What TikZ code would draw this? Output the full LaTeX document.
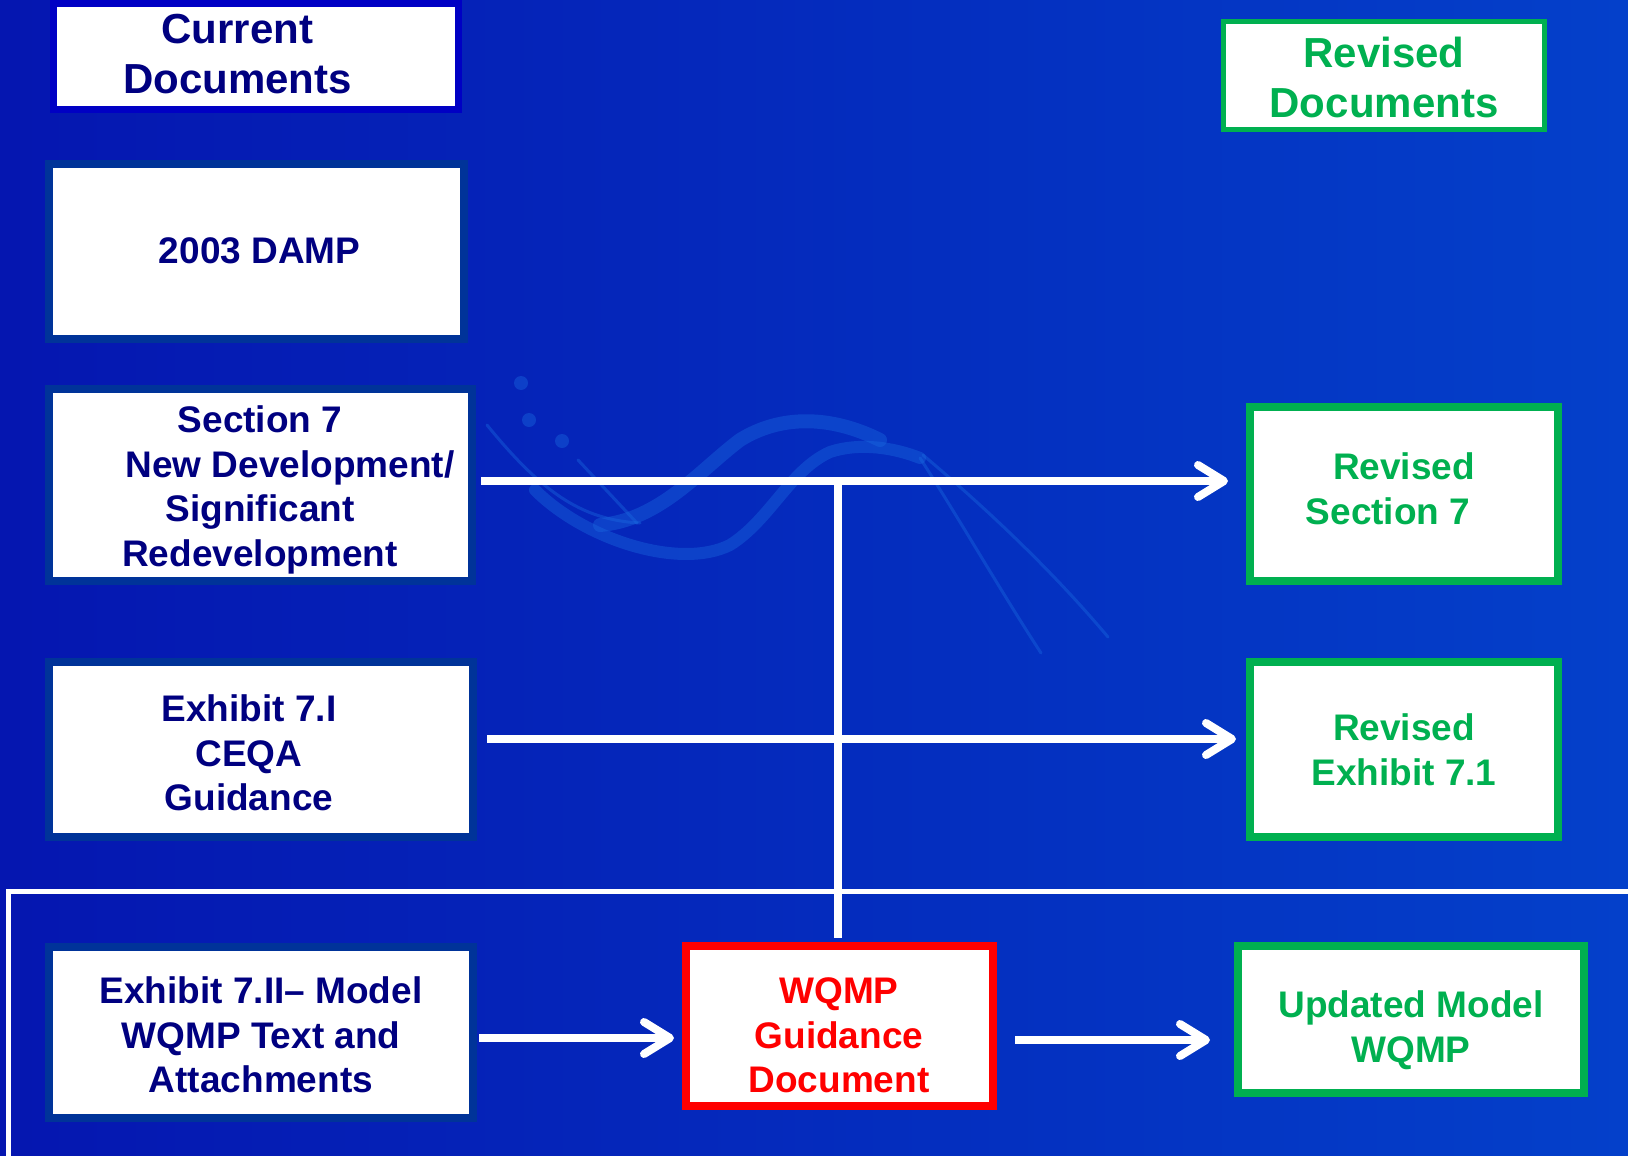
\documentclass[tikz,border=0pt]{standalone}
\usepackage{fontspec}
\setmainfont{Liberation Sans}
\usetikzlibrary{arrows.meta}
\definecolor{navy}{HTML}{000080}
\definecolor{grn}{HTML}{00B050}
\definecolor{redc}{HTML}{FF0000}
\definecolor{curbrd}{HTML}{0000C4}
\definecolor{bluebrd}{HTML}{003399}
\definecolor{bgL}{HTML}{0516B0}
\definecolor{bgR}{HTML}{0440CA}
\definecolor{swirl}{HTML}{1A6AE0}
\begin{document}
\begin{tikzpicture}[x=1pt,y=-1pt,
  box/.style={draw, fill=white, line width=8pt, inner sep=0pt},
  lbox/.style={box, draw=bluebrd},
  gbox/.style={box, draw=grn},
  txt/.style={align=center, font=\bfseries\fontsize{37}{44.5}\selectfont, inner sep=0pt},
  ttl/.style={align=center, font=\bfseries\fontsize{42}{50}\selectfont, inner sep=0pt},
  conn/.style={draw=white, line width=8pt},
  arr/.style={conn, -{Straight Barb[length=26pt,width=32pt,round]}},
  deco/.style={draw=swirl, opacity=0.4, line cap=round}
]
\shade[left color=bgL, right color=bgR] (0,0) rectangle (1628,1156);
\useasboundingbox (0,0) rectangle (1628,1156);

% faint background swirl
\draw[deco, line width=12pt] (535,490) .. controls (585,540) and (680,570) .. (730,545) .. controls (770,520) and (790,470) .. (830,452) .. controls (860,442) and (895,448) .. (920,458);
\draw[deco, line width=14pt] (600,525) .. controls (660,520) and (700,470) .. (740,440) .. controls (780,415) and (830,415) .. (880,440);
\draw[deco, line width=3pt] (487,425) .. controls (540,490) and (580,520) .. (640,523);
\draw[deco, line width=3pt] (578,460) -- (637,523);
\draw[deco, line width=3pt] (920,458) .. controls (960,520) and (1000,590) .. (1041,653);
\draw[deco, line width=3pt] (923,455) .. controls (1000,520) and (1060,580) .. (1108,637);
\fill[swirl, opacity=0.4] (521,383) circle (7pt) (529,420) circle (7pt) (562,441) circle (7pt);

% boxes
\node[box, draw=curbrd, line width=7pt, minimum width=405pt, minimum height=106pt] (cur) at (256,56.5) {};
\node[gbox, line width=5pt, minimum width=321pt, minimum height=108pt] (rdoc) at (1384,75.5) {};
\node[lbox, minimum width=415pt, minimum height=175pt] (damp) at (256.5,251.5) {};
\node[lbox, minimum width=423pt, minimum height=192pt] (sec7) at (260.5,485) {};
\node[lbox, minimum width=424pt, minimum height=175pt] (exh1) at (261,749.5) {};
\node[lbox, minimum width=424pt, minimum height=171pt] (exh2) at (261,1032.5) {};
\node[box, draw=redc, minimum width=307pt, minimum height=160pt] (wqmp) at (839.5,1026) {};
\node[gbox, minimum width=346pt, minimum height=147pt] (upd) at (1411,1019.5) {};
\node[gbox, minimum width=308pt, minimum height=174pt] (rsec7) at (1404,494) {};
\node[gbox, minimum width=308pt, minimum height=175pt] (rexh) at (1404,749.5) {};

% texts
\node[ttl, text=navy] (curt) at (237.5,58.3) {\strut Current\\\strut Documents};
\node[ttl, text=grn] (rdoct) at (1384,82.3) {\strut Revised\\\strut Documents};
\node[txt, text=navy] (dampt) at (259.7,254.1) {\strut 2003 DAMP};
\node[txt, text=navy] (sec7t) at (260,490.6) {\strut Section 7\\\strut\hspace*{60pt}New Development/\\\strut Significant\\\strut Redevelopment};
\node[txt, text=navy] (exh1t) at (249,757.3) {\strut Exhibit 7.I\\\strut CEQA\\\strut Guidance};
\node[txt, text=navy] (exh2t) at (261,1039.4) {\strut Exhibit 7.II\textendash{} Model\\\strut WQMP Text and\\\strut Attachments};
\node[txt, text=redc] (wqmpt) at (839,1039.4) {\strut WQMP\\\strut Guidance\\\strut Document};
\node[txt, text=grn] (rsec7t) at (1404,492.9) {\strut Revised\\\strut Section 7\hspace*{32pt}};
\node[txt, text=grn] (rexht) at (1404,753.9) {\strut Revised\\\strut Exhibit 7.1};
\node[txt, text=grn] (updt) at (1411,1031) {\strut Updated Model\\\strut WQMP};

% helper coordinates
\coordinate (y1) at (0,481);
\coordinate (y2) at (0,739);
\coordinate (y3) at (0,1038);
\coordinate (y4) at (0,1040);
\coordinate (xv) at (838,0);

% bottom frame
\draw[white, line width=5pt] (8,1160) -- (8,891) -- (1632,891);

% connectors
\draw[conn, shorten >=4pt] (xv |- y1) -- (xv |- wqmp.north);
\draw[arr, shorten <=5pt, shorten >=18pt] (sec7.east |- y1) -- (rsec7.west |- y1);
\draw[arr, shorten <=10pt, shorten >=10pt] (exh1.east |- y2) -- (rexh.west |- y2);
\draw[arr, shorten <=2pt, shorten >=8pt] (exh2.east |- y3) -- (wqmp.west |- y3);
\draw[arr, shorten <=18pt, shorten >=24pt] (wqmp.east |- y4) -- (upd.west |- y4);
\end{tikzpicture}
\end{document}
